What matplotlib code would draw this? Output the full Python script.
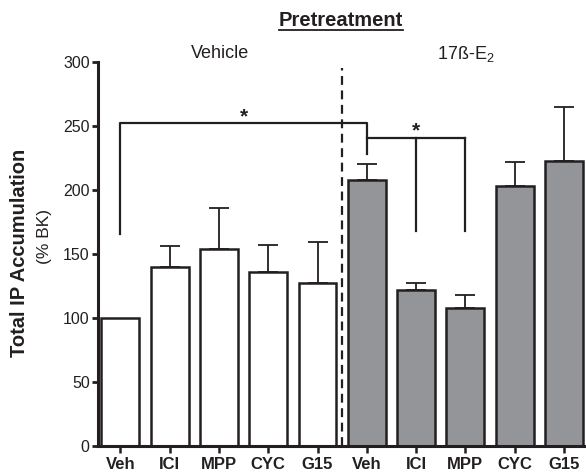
import numpy as np
import matplotlib
matplotlib.use("Agg")
import matplotlib.pyplot as plt
from matplotlib.lines import Line2D

plt.rcParams['font.family'] = ['Liberation Sans', 'DejaVu Sans']
plt.rcParams['mathtext.fontset'] = 'custom'
plt.rcParams['mathtext.rm'] = 'Liberation Sans'

# data
labels = ["Veh", "ICI", "MPP", "CYC", "G15", "Veh", "ICI", "MPP", "CYC", "G15"]
vehicle_vals = [100, 140, 154, 136, 127]
vehicle_err = [0, 16, 32, 21, 32]
e2_vals = [208, 122, 108, 203, 223]
e2_err = [12, 5, 10, 19, 42]

ink = "#231f20"
grey = "#939598"

fig = plt.figure(figsize=(5.86, 4.72), dpi=100)
ax = fig.add_axes([98 / 586, 1 - 446 / 472, 1 - 98 / 586, (446 - 62) / 472])

vals = vehicle_vals + e2_vals
errs = vehicle_err + e2_err
x = np.arange(len(vals))
colors = ["white"] * len(vehicle_vals) + [grey] * len(e2_vals)

ax.bar(x, vals, width=0.77, color=colors, edgecolor=ink, linewidth=1.8, zorder=2)
mask = np.array(errs) > 0
ax.errorbar(x[mask], np.array(vals)[mask],
            yerr=[np.zeros(mask.sum()), np.array(errs)[mask]],
            fmt='none', ecolor=ink, elinewidth=1.3, capsize=7, capthick=1.3, zorder=1)

# divider between pretreatments
ax.plot([4.5, 4.5], [0, 295], color=ink, lw=1.6, ls=(0, (4, 2.5)), zorder=3, clip_on=False)

# significance brackets
lw_b = 1.6
ax.plot([0, 0, 5, 5], [166, 252, 252, 228], color=ink, lw=lw_b, clip_on=False, zorder=3)
ax.plot([5, 7], [240.5, 240.5], color=ink, lw=lw_b, zorder=3)
ax.plot([6, 6], [240.5, 168], color=ink, lw=lw_b, zorder=3)
ax.plot([7, 7], [240.5, 168], color=ink, lw=lw_b, zorder=3)
ax.text(2.5, 250, "*", ha='center', va='bottom', fontsize=15, fontweight='bold', color=ink)
ax.text(6, 238.5, "*", ha='center', va='bottom', fontsize=15, fontweight='bold', color=ink)

ax.set_xlim(-0.456, 9.45)
ax.set_ylim(0, 300)
ax.set_yticks(np.arange(0, 301, 50))
ax.set_xticks(x)
ax.set_xticklabels(labels, fontweight='bold', fontsize=12, color=ink)
ax.tick_params(axis='y', labelsize=11.5, colors=ink, length=4, width=2, pad=2)
ax.tick_params(axis='x', length=5, width=1.8, pad=3, colors=ink)
for s in ['top', 'right']:
    ax.spines[s].set_visible(False)
for s in ['left', 'bottom']:
    ax.spines[s].set_linewidth(2.2)
    ax.spines[s].set_color(ink)

fig.text(20 / 586, 1 - 253 / 472, "Total IP Accumulation", rotation=90, ha='center', va='center',
         fontsize=14.5, fontweight='bold', color=ink)
fig.text(45 / 586, 1 - 236 / 472, "(% BK)", rotation=90, ha='center', va='center',
         fontsize=12.5, color=ink)

title = fig.text(279 / 586, 1 - 20 / 472, "Pretreatment", ha='left', va='center',
                 fontsize=14.5, fontweight='bold', color=ink)
fig.text(220 / 586, 1 - 53 / 472, "Vehicle", ha='center', va='center', fontsize=13, color=ink)
fig.text(466 / 586, 1 - 54 / 472, r"17ß-E$_\mathrm{2}$", ha='center', va='center', fontsize=13, color=ink)

# underline the title
fig.canvas.draw()
bb = title.get_window_extent().transformed(fig.transFigure.inverted())
fig.add_artist(Line2D([bb.x0, bb.x1], [1 - 30 / 472, 1 - 30 / 472], color=ink, lw=1.3,
                      transform=fig.transFigure))

fig.savefig("out.png", dpi=100)
